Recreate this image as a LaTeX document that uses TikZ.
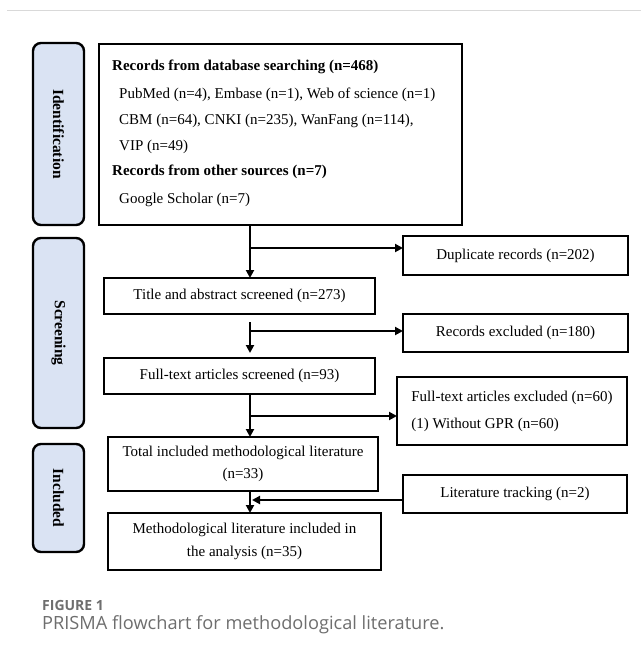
\documentclass[tikz,border=0pt]{standalone}
\usepackage{fontspec}
\setmainfont{Liberation Serif}
\newfontfamily\capfont{Open Sans}
\usetikzlibrary{arrows.meta}
\definecolor{sidefill}{HTML}{DAE3F3}
\definecolor{capgray}{HTML}{6E6E6E}
\definecolor{rulegray}{HTML}{D9D9D9}
\begin{document}
\begin{tikzpicture}[x=1pt,y=-1pt,
  box/.style={draw, line width=2.5pt, inner sep=0pt, outer sep=0pt, align=center, font=\fontsize{15}{22}\selectfont},
  side/.style={draw, line width=2.4pt, fill=sidefill, rounded corners=8pt, minimum width=51pt, inner sep=0pt, outer sep=0pt},
  sidelabel/.style={rotate=-90, inner sep=0pt, font=\fontsize{15.5}{17}\selectfont\bfseries},
  txt/.style={anchor=west, inner sep=0pt, font=\fontsize{15}{18}\selectfont},
  arr/.style={line width=2.5pt, -{Triangle[length=8pt,width=8pt]}},
  link/.style={line width=2.5pt}
]
\useasboundingbox (0,0) rectangle (641,657);
\draw[rulegray, line width=1pt] (7,10) -- (641,10);

% side boxes
\node[side, minimum height=182pt] (ident) at (58.5,134) {};
\node[sidelabel] (identl) at (ident.center) {Identification};
\node[side, minimum height=190pt] (screen) at (58.5,333) {};
\node[sidelabel] (screenl) at (screen.center) {Screening};
\node[side, minimum height=108pt] (incl) at (58.5,498) {};
\node[sidelabel] (incll) at (incl.center) {Included};

% main box
\node[box, line width=2.8pt, minimum width=363pt, minimum height=181pt] (main) at (280.5,134.5) {};
\node[txt, font=\fontsize{15}{18}\selectfont\bfseries] (l1) at (112,67) {Records from database searching (n=468)};
\node[txt] (l2) at (119,95) {PubMed (n=4), Embase (n=1), Web of science (n=1)};
\node[txt] (l3) at (119,121) {CBM (n=64), CNKI (n=235), WanFang (n=114),};
\node[txt] (l4) at (119,147) {VIP (n=49)};
\node[txt, font=\fontsize{15}{18}\selectfont\bfseries] (l5) at (112,172) {Records from other sources (n=7)};
\node[txt] (l6) at (119,200) {Google Scholar (n=7)};

% flow boxes
\node[box, minimum width=225pt, minimum height=39pt] (dup) at (515.5,255.5) {Duplicate records (n=202)};
\node[box, minimum width=271pt, minimum height=36pt] (title) at (239.5,296) {Title and abstract screened (n=273)};
\node[box, minimum width=225pt, minimum height=38pt] (recex) at (515.5,333) {Records excluded (n=180)};
\node[box, minimum width=271pt, minimum height=36pt] (fts) at (239.5,376) {Full-text articles screened (n=93)};
\node[box, minimum width=230pt, minimum height=68pt, align=left, font=\fontsize{15}{27}\selectfont] (ftex) at (512,411) {Full-text articles excluded (n=60)\\(1) Without GPR (n=60)};
\node[box, minimum width=270pt, minimum height=54pt] (total) at (243,464) {Total included methodological literature\\(n=33)};
\node[box, minimum width=224pt, minimum height=38pt] (lit) at (515,494) {Literature tracking (n=2)};
\node[box, minimum width=273pt, minimum height=57pt, font=\fontsize{15}{23}\selectfont] (meth) at (244.5,541.5) {Methodological literature included in\\the analysis (n=35)};

% connectors
\coordinate (j1) at (250,248);
\coordinate (j2) at (250,331);
\coordinate (j3) at (250,416);
\coordinate (m) at (252,500);
\draw[arr] (j1 |- main.south) -- (j1 |- title.north);
\draw[arr] (j1) -- (j1 -| dup.west);
\draw[arr, shorten <=8pt, shorten >=5pt] (j2 |- title.south) -- (j2 |- fts.north);
\draw[arr] (j2) -- (j2 -| recex.west);
\draw[arr] (j3 |- fts.south) -- (j3 |- total.north);
\draw[arr] (j3) -- (j3 -| ftex.west);
\draw[arr] (j3 |- total.south) -- (j3 |- meth.north);
\draw[arr] (lit.west |- m) -- (m);

% caption
\node[anchor=west, inner sep=0pt, text=capgray, font=\capfont\bfseries\fontsize{14}{16}\selectfont] (fig) at (42,605) {FIGURE 1};
\node[anchor=west, inner sep=0pt, text=capgray, font=\capfont\fontsize{18.2}{20}\selectfont] (cap) at (42,625) {PRISMA flowchart for methodological literature.};
\end{tikzpicture}
\end{document}
